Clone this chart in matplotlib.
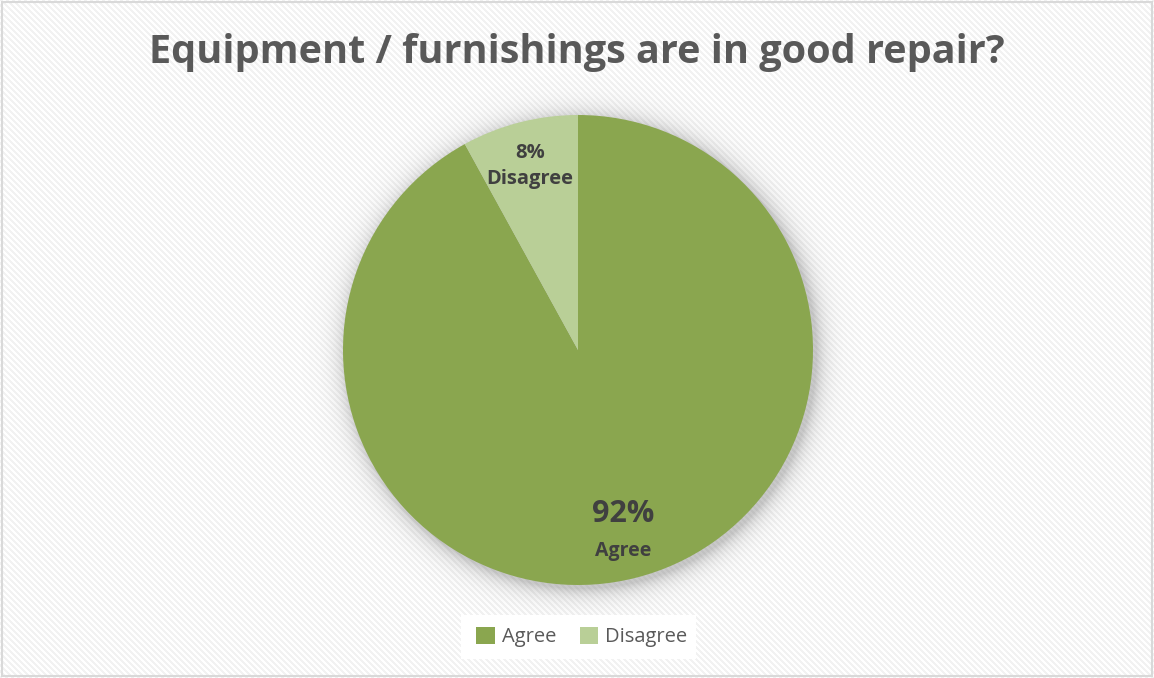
import numpy as np
import matplotlib.pyplot as plt
from matplotlib.patches import Rectangle

labels = ["Agree", "Disagree"]
shares = [92, 8]
colors = ["#8aa64f", "#b9cf97"]
title = "Equipment / furnishings are in good repair?"

plt.rcParams['font.family'] = ['Open Sans', 'DejaVu Sans']
text_grey = "#595959"

W, H = 1154, 678
fig = plt.figure(figsize=(W / 100, H / 100), dpi=100)

bg = fig.add_axes([0, 0, 1, 1])
bg.set_xlim(0, W)
bg.set_ylim(H, 0)
bg.axis("off")

# light diagonal stripes
yy, xx = np.mgrid[0:H, 0:W]
stripes = np.where((xx - yy) % 6 < 3, 0.95, 1.0)
bg.imshow(np.dstack([stripes] * 3), extent=(0, W, H, 0), zorder=1,
          interpolation="nearest")
bg.add_patch(Rectangle((1.5, 1.5), W - 4, H - 4, facecolor="none",
                       edgecolor="#d9d9d9", linewidth=1.5, zorder=4))

# soft shadow around the pie
cx, cy, r = 578, 350, 235
d = np.hypot(xx - cx - 3, yy - cy - 3) - r
alpha = np.clip(np.exp(-np.maximum(d, 0) / 10.0), 0, 1) * 0.35
shadow = np.zeros((H, W, 4))
shadow[..., :3] = 0.4
shadow[..., 3] = alpha
bg.imshow(shadow, extent=(0, W, H, 0), zorder=2)

# legend background box
bg.add_patch(Rectangle((461, 615), 235, 44, facecolor="white",
                       edgecolor="none", zorder=3))
bg.set_xlim(0, W)
bg.set_ylim(H, 0)

ax = fig.add_axes([(cx - r) / W, 1 - (cy + r) / H, 2 * r / W, 2 * r / H])
wedges, _ = ax.pie(shares, colors=colors, startangle=90, counterclock=False,
                   wedgeprops=dict(linewidth=0))
ax.set_aspect("equal")
ax.set_xlim(-1, 1)
ax.set_ylim(-1, 1)

# data labels
ax.text((530 - cx) / r, (cy - 153) / r, f"{shares[1]}%", ha="center",
        va="center", fontsize=14.5, fontweight="bold", color="#404040")
ax.text((530 - cx) / r, (cy - 179) / r, labels[1], ha="center",
        va="center", fontsize=14.5, fontweight="bold", color="#404040")
ax.text((623 - cx) / r, (cy - 514) / r, f"{shares[0]}%", ha="center",
        va="center", fontsize=22, fontweight="bold", color="#404040")
ax.text((623 - cx) / r, (cy - 551) / r, labels[0], ha="center",
        va="center", fontsize=14, fontweight="bold", color="#404040")

fig.text(577 / W, 1 - 53 / H, title, ha="center", va="center", fontsize=28.5,
         fontweight="bold", color=text_grey)

leg = fig.legend(wedges, labels, loc="center", bbox_to_anchor=(582 / W, 1 - 637 / H),
                 ncol=2, frameon=False, fontsize=14.5, handlelength=0.9,
                 handleheight=0.9, handletextpad=0.35, columnspacing=1.2,
                 labelcolor=text_grey)

fig.savefig("out.png", dpi=100)
